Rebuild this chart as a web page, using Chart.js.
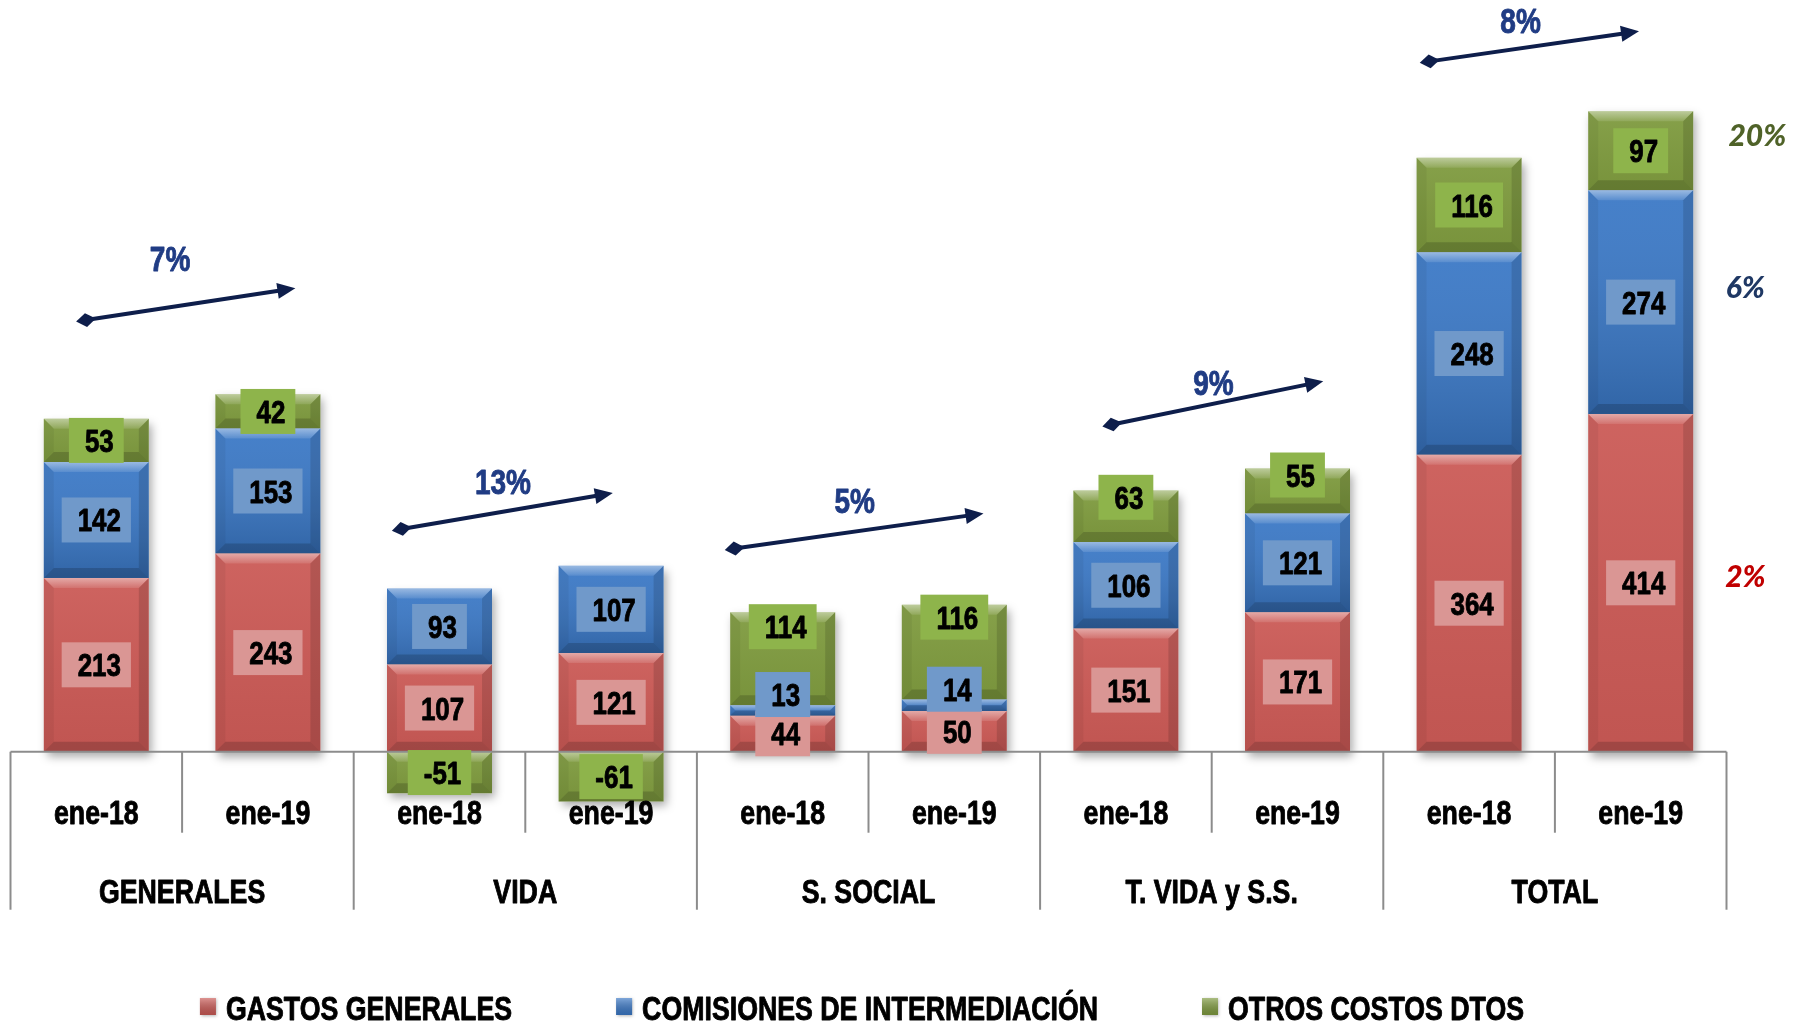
<!DOCTYPE html>
<html><head><meta charset="utf-8">
<script src="https://cdn.jsdelivr.net/npm/chart.js@4/dist/chart.umd.min.js"></script>
<style>html,body{margin:0;padding:0;background:#fff;}#wrap{width:1799px;height:1022px;position:relative;}</style>
</head><body><div id="wrap"><canvas id="c"></canvas></div>
<script>
// ---- data ----
const periods = ['ene-18','ene-19','ene-18','ene-19','ene-18','ene-19','ene-18','ene-19','ene-18','ene-19'];
const groups = ['GENERALES','VIDA','S. SOCIAL','T. VIDA y S.S.','TOTAL'];
const seriesNames = ['GASTOS GENERALES','COMISIONES DE INTERMEDIACIÓN','OTROS COSTOS DTOS'];
const gastosGenerales = [213,243,107,121,44,50,151,171,364,414];
const comisiones = [142,153,93,107,13,14,106,121,248,274];
const otrosCostos = [53,42,-51,-61,114,116,63,55,116,97];
const groupGrowth = ['7%','13%','5%','9%','8%'];
const seriesGrowth = ['2%','6%','20%'];

// ---- style ----
const FONT = '"Liberation Sans", Arial, sans-serif';
const NARROW = 0.81;
const barColors = ['#CB5A56','#3A78C6','#7F9B3F'];
const boxColors = ['#DA9694','#7099CA','#8EB44B'];
const growthColors = ['#C00000','#1F3864','#4F6228'];

function poly(ctx, pts, fill){ctx.beginPath();ctx.moveTo(pts[0][0],pts[0][1]);for(let i=1;i<pts.length;i++)ctx.lineTo(pts[i][0],pts[i][1]);ctx.closePath();ctx.fillStyle=fill;ctx.fill();}
function ntext(ctx, txt, x, y, size, align, scale){
  const s=scale||NARROW;
  ctx.save(); ctx.font='bold '+size+'px '+FONT; ctx.textAlign='left'; ctx.textBaseline='alphabetic';
  const w=ctx.measureText(txt).width*s;
  let x0=x; if(align==='center')x0=x-w/2; else if(align==='right')x0=x-w;
  ctx.translate(x0,y); ctx.scale(s,1);
  ctx.strokeStyle=ctx.fillStyle; ctx.lineWidth=0.9; ctx.lineJoin='round';
  ctx.fillText(txt,0,0); ctx.strokeText(txt,0,0); ctx.restore();
  return w;
}
function nwidth(ctx, txt, size, scale){ctx.save(); ctx.font='bold '+size+'px '+FONT; const w=ctx.measureText(txt).width*(scale||NARROW); ctx.restore(); return w;}

const decor = {
  id:'decor',
  beforeDatasetsDraw(chart){
    const ctx=chart.ctx; const n=chart.data.labels.length;
    ctx.save();
    ctx.shadowColor='rgba(0,0,0,0.35)'; ctx.shadowBlur=9; ctx.shadowOffsetX=3; ctx.shadowOffsetY=5;
    ctx.fillStyle='#ffffff';
    for(let i=0;i<n;i++){
      let t=Infinity,b=-Infinity,x=0,w=0;
      chart.data.datasets.forEach((d,di)=>{const el=chart.getDatasetMeta(di).data[i];
        const p=el.getProps(['x','y','base','width'],true);
        t=Math.min(t,p.y,p.base);b=Math.max(b,p.y,p.base);x=p.x;w=p.width;});
      ctx.fillRect(x-w/2,t,w,b-t);
    }
    ctx.restore();
  },
  afterDatasetsDraw(chart,args,opts){
    const ctx=chart.ctx; const xs=chart.scales.x, ys=chart.scales.y, ca=chart.chartArea;
    // bevels
    chart.data.datasets.forEach((d,di)=>{
      chart.getDatasetMeta(di).data.forEach(el=>{
        const p=el.getProps(['x','y','base','width'],true);
        const top=Math.min(p.y,p.base), bot=Math.max(p.y,p.base), l=p.x-p.width/2, r=p.x+p.width/2, h=bot-top;
        const b=Math.min(10,h/2);
        const g=ctx.createLinearGradient(0,top,0,bot);
        g.addColorStop(0,'rgba(255,255,255,0.06)'); g.addColorStop(1,di===1?'rgba(0,0,0,0.16)':'rgba(0,0,0,0.05)');
        ctx.fillStyle=g; ctx.fillRect(l,top,p.width,h);
        const gt=ctx.createLinearGradient(0,top,0,top+b);
        gt.addColorStop(0,'rgba(255,255,255,0.45)'); gt.addColorStop(1,'rgba(255,255,255,0.1)');
        poly(ctx,[[l,top],[r,top],[r-b,top+b],[l+b,top+b]],gt);
        poly(ctx,[[l,top],[l+b,top+b],[l+b,bot-b],[l,bot]],'rgba(0,0,0,0.05)');
        poly(ctx,[[r,top],[r-b,top+b],[r-b,bot-b],[r,bot]],'rgba(0,0,0,0.13)');
        poly(ctx,[[l,bot],[l+b,bot-b],[r-b,bot-b],[r,bot]],'rgba(0,0,0,0.17)');
      });
    });
    // category axis
    const y0=ys.getPixelForValue(0);
    const step=(ca.right-ca.left)/chart.data.labels.length;
    ctx.save();
    ctx.strokeStyle='#8C8C8C'; ctx.lineWidth=2;
    ctx.beginPath(); ctx.moveTo(ca.left,y0); ctx.lineTo(ca.right,y0); ctx.stroke();
    for(let i=0;i<=chart.data.labels.length;i++){
      const x=ca.left+i*step; const outer=(i%2===0);
      ctx.beginPath(); ctx.moveTo(x,y0); ctx.lineTo(x,outer?y0+158:y0+81); ctx.stroke();
    }
    ctx.fillStyle='#000';
    chart.data.labels.forEach((lab,i)=>{ntext(ctx,lab,xs.getPixelForValue(i),y0+72,33,'center');});
    groups.forEach((g,gi)=>{const x=(xs.getPixelForValue(2*gi)+xs.getPixelForValue(2*gi+1))/2; ntext(ctx,g,x,y0+151,33,'center');});
    ctx.restore();
    // data labels
    ctx.save();
    chart.data.datasets.forEach((d,di)=>{
      chart.getDatasetMeta(di).data.forEach((el,i)=>{
        const p=el.getProps(['x','y','base'],true);
        const cy=(p.y+p.base)/2+((opts.nudge||{})[di+'-'+i]||0);
        const txt=String(d.data[i]);
        const w=nwidth(ctx,txt,32)+26, hh=45;
        ctx.fillStyle=boxColors[di]; ctx.fillRect(p.x-w/2,cy-hh/2,w,hh);
        ctx.fillStyle='#000'; ntext(ctx,txt,p.x+3,cy+11.5,32,'center');
      });
    });
    ctx.restore();
    // growth arrows
    ctx.save();
    (opts.arrows||[]).forEach((a,k)=>{
      const x0=xs.getPixelForValue(a.x0), y0a=ys.getPixelForValue(a.y0), x1=xs.getPixelForValue(a.x1), y1=ys.getPixelForValue(a.y1);
      const ang=Math.atan2(y1-y0a,x1-x0), c=Math.cos(ang), s=Math.sin(ang);
      ctx.strokeStyle='#0E1E4B'; ctx.fillStyle='#0E1E4B'; ctx.lineWidth=4;
      ctx.beginPath(); ctx.moveTo(x0,y0a); ctx.lineTo(x1-12*c,y1-12*s); ctx.stroke();
      ctx.beginPath(); ctx.moveTo(x1,y1); ctx.lineTo(x1-18*c-8*s,y1-18*s+8*c); ctx.lineTo(x1-18*c+8*s,y1-18*s-8*c); ctx.closePath(); ctx.fill();
      ctx.beginPath(); ctx.moveTo(x0-10*c,y0a-10*s); ctx.lineTo(x0+7*s,y0a-7*c); ctx.lineTo(x0+10*c,y0a+10*s); ctx.lineTo(x0-7*s,y0a+7*c); ctx.closePath(); ctx.fill();
      ctx.fillStyle='#203C84';
      ntext(ctx,groupGrowth[k],xs.getPixelForValue(a.lx),ys.getPixelForValue(a.ly)+12.5,35,'center',0.8);
    });
    // series growth labels
    ctx.font='italic 900 30px Lato, "Open Sans", sans-serif'; ctx.textAlign='center'; ctx.textBaseline='alphabetic';
    (opts.seriesGrowthPos||[]).forEach((p,k)=>{ctx.fillStyle=growthColors[k]; ctx.fillText(seriesGrowth[k],xs.getPixelForValue(p.x),ys.getPixelForValue(p.y)+11);});
    ctx.restore();
    // legend
    ctx.save();
    const items=chart.data.datasets.map((d,di)=>({t:d.label,tw:nwidth(ctx,d.label,33),c:barColors[di]}));
    items.forEach(it=>it.w=16+10+it.tw);
    const gap=104; const total=items.reduce((s,it)=>s+it.w,0)+gap*(items.length-1);
    let lx=opts.legendCenter-total/2; const ly=opts.legendBaseline;
    items.forEach(it=>{
      ctx.save(); ctx.shadowColor='rgba(0,0,0,0.3)'; ctx.shadowBlur=3; ctx.shadowOffsetX=1; ctx.shadowOffsetY=1;
      ctx.fillStyle=it.c; ctx.fillRect(lx,ly-22,16,17); ctx.restore();
      const g=ctx.createLinearGradient(0,ly-22,0,ly-5); g.addColorStop(0,'rgba(255,255,255,0.35)'); g.addColorStop(1,'rgba(0,0,0,0.15)');
      ctx.fillStyle=g; ctx.fillRect(lx,ly-22,16,17);
      ctx.fillStyle='#000'; ntext(ctx,it.t,lx+26,ly,33,'left');
      lx+=it.w+gap;
    });
    ctx.restore();
  }
};

new Chart(document.getElementById('c'),{
  type:'bar',
  data:{labels:periods,datasets:[
    {label:seriesNames[0],data:gastosGenerales,backgroundColor:barColors[0]},
    {label:seriesNames[1],data:comisiones,backgroundColor:barColors[1]},
    {label:seriesNames[2],data:otrosCostos,backgroundColor:barColors[2]}
  ]},
  options:{
    responsive:true,maintainAspectRatio:false,animation:false,
    layout:{padding:{left:10.5,right:72.5,top:1,bottom:1}},
    datasets:{bar:{categoryPercentage:1,barPercentage:0.612,borderWidth:0}},
    scales:{
      x:{type:'category',display:false,stacked:true,offset:true,grid:{display:false}},
      y:{display:false,stacked:true,min:-330,max:920,grid:{display:false}}
    },
    plugins:{
      legend:{display:false},tooltip:{enabled:false},
      decor:{
        nudge:{'1-4':-16,'2-4':-32,'1-5':-16,'2-5':-35,'2-6':-19,'2-7':-16},
        arrows:[
          {x0:-0.06,y0:529,x1:1.16,y1:568,lx:0.43,ly:605},
          {x0:1.78,y0:273,x1:3.01,y1:317,lx:2.37,ly:331},
          {x0:3.72,y0:249,x1:5.17,y1:292,lx:4.42,ly:308},
          {x0:5.92,y0:401,x1:7.15,y1:454,lx:6.51,ly:452},
          {x0:7.77,y0:846,x1:8.99,y1:883,lx:8.30,ly:896}
        ],
        seriesGrowthPos:[{x:9.61,y:215},{x:9.61,y:570},{x:9.68,y:756}],
        legendCenter:862, legendBaseline:1020
      }
    }
  },
  plugins:[decor]
});
</script></body></html>
